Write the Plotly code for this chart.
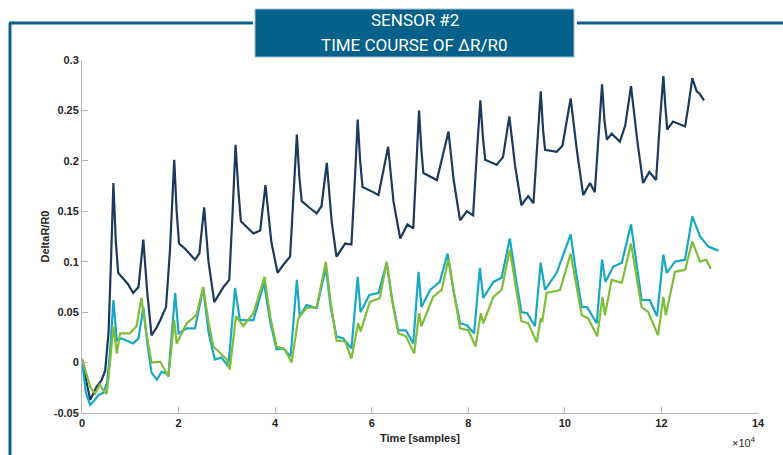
import plotly.graph_objects as go

# ---- data (time in units of 1e4 samples) ----
navy_t = [0.00, 0.08, 0.17, 0.30, 0.40, 0.48, 0.55, 0.60, 0.65, 0.70, 0.75, 0.82, 0.95, 1.06, 1.17, 1.27, 1.35, 1.44, 1.55, 1.62,
          1.74, 1.82, 1.91, 1.96, 2.01, 2.13, 2.34, 2.43, 2.53, 2.62, 2.74, 2.93, 3.05, 3.12, 3.18, 3.24, 3.29, 3.55, 3.69, 3.80,
          3.92, 4.05, 4.17, 4.31, 4.38, 4.45, 4.50, 4.55, 4.70, 4.86, 4.96, 5.07, 5.17, 5.27, 5.45, 5.58, 5.65, 5.71, 5.76, 5.81,
          6.03, 6.14, 6.34, 6.45, 6.59, 6.74, 6.86, 6.93, 6.98, 7.03, 7.07, 7.35, 7.59, 7.70, 7.83, 7.97, 8.10, 8.18, 8.25, 8.30,
          8.35, 8.59, 8.72, 8.85, 8.97, 9.10, 9.24, 9.35, 9.43, 9.50, 9.55, 9.59, 9.83, 9.95, 10.12, 10.25, 10.38, 10.52, 10.62,
          10.70, 10.77, 10.82, 10.87, 10.97, 11.14, 11.25, 11.37, 11.50, 11.62, 11.75, 11.89, 11.97, 12.04, 12.08, 12.12, 12.24,
          12.49, 12.56, 12.64, 12.73, 12.80, 12.88]
navy_y = [0.002, -0.015, -0.037, -0.024, -0.018, -0.008, 0.030, 0.100, 0.178, 0.120, 0.089, 0.085, 0.078, 0.069, 0.075, 0.122, 0.070, 0.027, 0.035, 0.042,
          0.055, 0.110, 0.201, 0.150, 0.118, 0.113, 0.102, 0.108, 0.154, 0.100, 0.060, 0.075, 0.082, 0.150, 0.216, 0.170, 0.140, 0.128, 0.131, 0.176,
          0.120, 0.089, 0.097, 0.105, 0.160, 0.226, 0.185, 0.160, 0.154, 0.148, 0.155, 0.198, 0.140, 0.105, 0.118, 0.117, 0.180, 0.241, 0.200, 0.174,
          0.169, 0.166, 0.214, 0.160, 0.123, 0.137, 0.133, 0.200, 0.250, 0.210, 0.188, 0.181, 0.229, 0.180, 0.141, 0.150, 0.146, 0.210, 0.260, 0.225,
          0.201, 0.196, 0.204, 0.244, 0.195, 0.156, 0.165, 0.158, 0.220, 0.269, 0.230, 0.211, 0.209, 0.215, 0.262, 0.210, 0.166, 0.178, 0.169,
          0.230, 0.276, 0.240, 0.221, 0.227, 0.219, 0.235, 0.274, 0.220, 0.178, 0.189, 0.181, 0.240, 0.284, 0.255, 0.231, 0.239,
          0.234, 0.255, 0.282, 0.269, 0.266, 0.260]

cyan_t = [0.00, 0.08, 0.17, 0.25, 0.34, 0.44, 0.52, 0.58, 0.65, 0.72, 0.82, 0.95, 1.06, 1.17, 1.27, 1.35, 1.44, 1.55, 1.65, 1.79,
          1.87, 1.93, 2.00, 2.17, 2.34, 2.51, 2.62, 2.75, 2.89, 3.03, 3.17, 3.27, 3.55, 3.77, 3.90, 4.03, 4.17, 4.32, 4.45, 4.51,
          4.65, 4.86, 5.05, 5.15, 5.27, 5.41, 5.58, 5.71, 5.77, 5.95, 6.14, 6.31, 6.43, 6.55, 6.71, 6.86, 6.97, 7.03, 7.21, 7.41,
          7.57, 7.70, 7.83, 7.97, 8.12, 8.24, 8.31, 8.52, 8.69, 8.86, 8.98, 9.10, 9.22, 9.38, 9.50, 9.59, 9.83, 10.12, 10.23, 10.35,
          10.46, 10.66, 10.77, 10.84, 11.00, 11.18, 11.37, 11.48, 11.59, 11.76, 11.91, 12.04, 12.11, 12.28, 12.49, 12.64, 12.80,
          12.97, 13.18]
cyan_y = [0.002, -0.030, -0.042, -0.038, -0.032, -0.030, -0.020, 0.010, 0.062, 0.022, 0.024, 0.021, 0.019, 0.024, 0.055, 0.020, -0.010, -0.017, -0.009, -0.012,
          0.030, 0.069, 0.029, 0.034, 0.034, 0.074, 0.030, 0.003, 0.005, -0.004, 0.074, 0.042, 0.042, 0.079, 0.040, 0.013, 0.014, 0.006, 0.082, 0.046,
          0.057, 0.054, 0.094, 0.055, 0.026, 0.024, 0.014, 0.085, 0.050, 0.067, 0.069, 0.099, 0.060, 0.032, 0.032, 0.019, 0.090, 0.055, 0.072, 0.080,
          0.108, 0.070, 0.039, 0.037, 0.029, 0.094, 0.064, 0.080, 0.084, 0.123, 0.085, 0.050, 0.049, 0.036, 0.099, 0.072, 0.089, 0.127, 0.090, 0.055,
          0.055, 0.039, 0.102, 0.080, 0.095, 0.099, 0.137, 0.100, 0.062, 0.062, 0.046, 0.107, 0.089, 0.100, 0.102, 0.145, 0.125,
          0.115, 0.111]

green_t = [0.00, 0.08, 0.17, 0.27, 0.37, 0.45, 0.51, 0.58, 0.65, 0.72, 0.79, 0.99, 1.13, 1.23, 1.33, 1.44, 1.62, 1.79, 1.91, 1.96,
           2.17, 2.37, 2.51, 2.62, 2.72, 3.00, 3.06, 3.19, 3.34, 3.55, 3.78, 3.90, 4.03, 4.20, 4.34, 4.48, 4.65, 4.86, 5.05, 5.15,
           5.27, 5.45, 5.58, 5.72, 5.77, 5.96, 6.17, 6.31, 6.43, 6.55, 6.71, 6.88, 6.98, 7.03, 7.27, 7.45, 7.59, 7.70, 7.83, 8.00,
           8.15, 8.26, 8.31, 8.52, 8.69, 8.86, 8.98, 9.10, 9.24, 9.42, 9.50, 9.53, 9.62, 9.90, 10.12, 10.23, 10.35, 10.48, 10.67,
           10.78, 10.83, 10.97, 11.18, 11.37, 11.48, 11.59, 11.73, 11.93, 12.04, 12.09, 12.28, 12.49, 12.64, 12.80, 12.93, 13.02]
green_y = [0.004, -0.010, -0.024, -0.031, -0.022, -0.028, -0.031, 0.000, 0.036, 0.009, 0.029, 0.029, 0.036, 0.064, 0.030, 0.000, 0.001, -0.014, 0.042, 0.019,
           0.039, 0.047, 0.075, 0.040, 0.016, 0.003, -0.007, 0.046, 0.036, 0.049, 0.085, 0.045, 0.016, 0.013, 0.000, 0.044, 0.054, 0.055, 0.100, 0.060,
           0.022, 0.021, 0.004, 0.039, 0.031, 0.060, 0.064, 0.100, 0.060, 0.029, 0.026, 0.009, 0.049, 0.036, 0.065, 0.072, 0.103, 0.070, 0.034, 0.032,
           0.016, 0.049, 0.039, 0.065, 0.072, 0.112, 0.075, 0.041, 0.039, 0.020, 0.044, 0.040, 0.069, 0.072, 0.108, 0.078, 0.047, 0.044, 0.026,
           0.065, 0.047, 0.082, 0.079, 0.118, 0.085, 0.055, 0.050, 0.027, 0.065, 0.047, 0.090, 0.092, 0.120, 0.100, 0.102, 0.093]

x_ticks = [0, 2, 4, 6, 8, 10, 12, 14]
y_ticks = [-0.05, 0, 0.05, 0.1, 0.15, 0.2, 0.25, 0.3]
y_tick_text = ["-0.05", "0", "0.05", "0.1", "0.15", "0.2", "0.25", "0.3"]
title_lines = ["SENSOR #2", "TIME COURSE OF ΔR/R0"]

# ---- layout geometry (pixels) ----
W, H = 783, 455
L, R, T, B = 82, 758, 60, 413


def px(xp):
    return (xp - L) / (R - L)


def py(yp):
    return (B - yp) / (B - T)


fig = go.Figure()
for t, y, c in [(navy_t, navy_y, "#1b3a5e"), (cyan_t, cyan_y, "#17a8c6"), (green_t, green_y, "#80bd3a")]:
    fig.add_trace(go.Scatter(x=t, y=y, mode="lines", line=dict(color=c, width=2.2), showlegend=False))

frame = "#0e6088"
shapes = [
    dict(type="line", x0=px(10), x1=px(10), y0=py(470), y1=py(23), line=dict(color=frame, width=3)),
    dict(type="line", x0=px(9), x1=px(253), y0=py(23), y1=py(23), line=dict(color=frame, width=3)),
    dict(type="line", x0=px(577), x1=px(790), y0=py(23), y1=py(23), line=dict(color=frame, width=3)),
    dict(type="rect", x0=px(255), x1=px(574), y0=py(57), y1=py(9), fillcolor="#05618a",
         line=dict(color="#9cc3d6", width=1)),
]
for s in shapes:
    s.update(xref="paper", yref="paper", layer="above")

tick_font = dict(family="Liberation Sans, Arial", size=11, color="#262626", weight="bold")

fig.update_layout(
    width=W, height=H, margin=dict(l=L, r=W - R, t=T, b=H - B),
    paper_bgcolor="white", plot_bgcolor="white",
    shapes=shapes,
    xaxis=dict(range=[0, 14], tickvals=x_ticks, ticks="inside", ticklen=6, tickcolor="#b4b4b4",
               showline=True, linecolor="#b4b4b4", linewidth=1, showgrid=False, zeroline=False,
               tickfont=tick_font,
               title=dict(text="Time [samples]", font=tick_font, standoff=6)),
    yaxis=dict(range=[-0.05, 0.3], tickvals=y_ticks, ticktext=y_tick_text, ticks="inside", ticklen=6,
               tickcolor="#b4b4b4", showline=True, linecolor="#b4b4b4", linewidth=1, showgrid=False,
               zeroline=False, tickfont=tick_font,
               title=dict(text="DeltaR/R0", font=tick_font, standoff=1)),
    annotations=[
        dict(text="×10<sup>4</sup>", x=px(758), y=py(442), xref="paper", yref="paper", xanchor="right",
             yanchor="middle", showarrow=False, font=dict(family="Liberation Sans, Arial", size=11, color="#262626")),
        dict(text=title_lines[0], x=px(414.5), y=py(20), xref="paper", yref="paper", showarrow=False,
             xanchor="center", yanchor="middle", font=dict(family="Roboto", size=17, color="white")),
        dict(text=title_lines[1], x=px(414.5), y=py(45), xref="paper", yref="paper", showarrow=False,
             xanchor="center", yanchor="middle", font=dict(family="Roboto", size=17, color="white")),
    ],
)

fig.write_html("out.html")
